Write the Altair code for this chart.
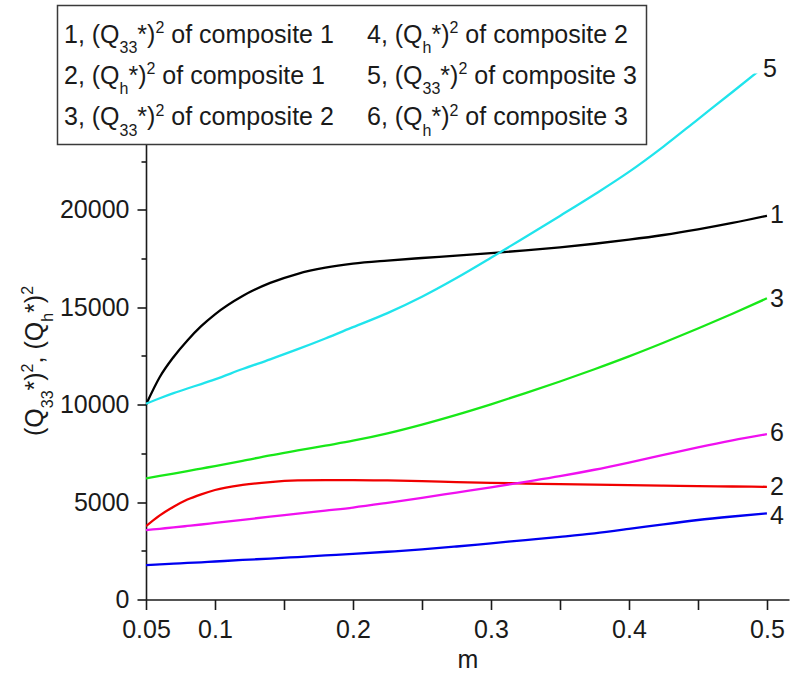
import altair as alt
import pandas as pd

# ---------------- data ----------------
m = [0.05, 0.06, 0.07, 0.08, 0.09, 0.10, 0.12, 0.14, 0.16, 0.18, 0.20, 0.225,
     0.25, 0.275, 0.30, 0.325, 0.35, 0.375, 0.40, 0.425, 0.45, 0.475, 0.50]

q33_c1 = [10000, 11420, 12450, 13300, 14030, 14640, 15580, 16250, 16720, 17030, 17240, 17400,
          17530, 17650, 17780, 17920, 18080, 18260, 18470, 18710, 19000, 19330, 19700]
qh_c1 = [3765, 4320, 4760, 5130, 5400, 5620, 5880, 6030, 6110, 6130, 6130, 6110,
         6075, 6030, 5990, 5955, 5920, 5895, 5870, 5845, 5820, 5800, 5785]
q33_c2 = [6216, 6340, 6465, 6590, 6720, 6850, 7120, 7400, 7650, 7900, 8150, 8530,
          8980, 9480, 10020, 10590, 11190, 11820, 12480, 13180, 13910, 14670, 15460]
qh_c2 = [1762, 1800, 1840, 1875, 1910, 1950, 2030, 2100, 2180, 2260, 2340, 2450,
         2570, 2720, 2885, 3050, 3215, 3395, 3620, 3860, 4080, 4260, 4420]
q33_c3 = [10050, 10330, 10590, 10830, 11060, 11300, 11830, 12330, 12850, 13400, 13980, 14700,
          15540, 16500, 17540, 18610, 19690, 20790, 21950, 23250, 24650, 26050, 27470]
qh_c3 = [3560, 3630, 3700, 3775, 3850, 3930, 4090, 4250, 4410, 4565, 4720, 4960,
         5220, 5490, 5760, 6040, 6330, 6660, 7030, 7420, 7810, 8170, 8490]

series_ids = ["1", "2", "3", "4", "5", "6"]
series_colors = ["#000000", "#f00000", "#18e818", "#0000f0", "#20e4ec", "#f010f0"]

label_text = ["1", "2", "3", "4", "5", "6"]
label_m = [0.5, 0.5, 0.5, 0.5, 0.495, 0.5]
label_val = [19740, 5795, 15450, 4280, 27240, 8570]

legend_sub = ["33", "h", "33", "h", "33", "h"]
legend_comp = ["1", "1", "2", "2", "3", "3"]

x_tick_values = [0.05, 0.075, 0.1, 0.125, 0.15, 0.175, 0.2, 0.225, 0.25, 0.275,
                 0.3, 0.325, 0.35, 0.375, 0.4, 0.425, 0.45, 0.475, 0.5]
x_label_values = [0.05, 0.1, 0.2, 0.3, 0.4, 0.5]
y_tick_values = [0, 2500, 5000, 7500, 10000, 12500, 15000, 17500, 20000, 22500, 25000]

# ---------------- layout ----------------
W, H = 643, 526
PL, PT = 146, 73.5
FONT = "Liberation Sans"
INK = "#1a1a1a"

rows = []
for sid, vals in zip(series_ids, [q33_c1, qh_c1, q33_c2, qh_c2, q33_c3, qh_c3]):
    for x, v in zip(m, vals):
        rows.append({"m": x, "v": v, "s": sid})
df = pd.DataFrame(rows)

lab = pd.DataFrame({"m": label_m, "v": label_val, "t": label_text})

xscale = alt.Scale(domain=[0.05, 0.516], nice=False, zero=False)
yscale = alt.Scale(domain=[0, 27000], nice=False, zero=True)

x_label_list = ",".join(str(v) for v in x_label_values)
x_axis = alt.Axis(
    values=x_tick_values,
    labelExpr=f"indexof([{x_label_list}], datum.value) >= 0 ? format(datum.value, '~g') : ''",
    tickSize={"condition": {"test": "abs(datum.value*20 - round(datum.value*20)) < 1e-6", "value": 10}, "value": 5},
    title="m", titleFont=FONT, titleFontSize=25, titleFontWeight="normal", titleColor=INK,
    titlePadding=5,
    labelFont=FONT, labelFontSize=25, labelColor=INK, labelPadding=8, labelFlush=False,
    labelOverlap=False,
    domainColor=INK, domainWidth=1.6, tickColor=INK, tickWidth=1.6, grid=False,
)
y_axis = alt.Axis(
    values=y_tick_values,
    labelExpr="datum.value % 5000 == 0 ? format(datum.value, 'd') : ''",
    tickSize={"condition": {"test": "datum.value % 5000 == 0", "value": 9}, "value": 5},
    title=None,
    labelFont=FONT, labelFontSize=25, labelColor=INK, labelPadding=8, labelOverlap=False,
    domainColor=INK, domainWidth=1.6, tickColor=INK, tickWidth=1.6, grid=False,
)

lines = alt.Chart(df).mark_line(strokeWidth=2.3, clip=True, interpolate="monotone").encode(
    x=alt.X("m:Q", scale=xscale, axis=x_axis),
    y=alt.Y("v:Q", scale=yscale, axis=y_axis),
    color=alt.Color("s:N", scale=alt.Scale(domain=series_ids, range=series_colors), legend=None),
    detail="s:N",
)

end_labels = alt.Chart(lab).mark_text(
    align="left", baseline="middle", dx=3, font=FONT, fontSize=25, color=INK
).encode(
    x=alt.X("m:Q", scale=xscale),
    y=alt.Y("v:Q", scale=yscale),
    text="t:N",
)

# ---------------- legend box + rich text ----------------
AW = {'0': 556, '1': 556, '2': 556, '3': 556, '4': 556, '5': 556, '6': 556,
      ',': 278, ' ': 278, '(': 333, ')': 333, 'Q': 778, '*': 389, 'h': 556,
      'o': 556, 'f': 278, 'c': 500, 'm': 833, 'p': 556, 's': 500, 'i': 222,
      't': 278, 'e': 556}


def tw(s, fs):
    return sum(AW[c] for c in s) * fs / 1000.0


BIG, SMALL = 25, 16
SUB_DY, SUP_DY = 10.6, -9.4

pieces = []
col_x = [64, 367]
row_base = [42.7, 83.7, 125.0]
for i, sid in enumerate(series_ids):
    x = col_x[i // 3]
    yb = row_base[i % 3]
    parts = [(f"{sid}, (Q", BIG, 0), (legend_sub[i], SMALL, SUB_DY), ("*)", BIG, 0),
             ("2", SMALL, SUP_DY), (None, BIG, 0), (f"of composite {legend_comp[i]}", BIG, 0)]
    for t, fs, dy in parts:
        if t is None:
            x += tw(" ", fs)
            continue
        pieces.append({"px": x - PL, "py": yb + dy - PT, "t": t, "fs": fs})
        x += tw(t, fs)
leg_df = pd.DataFrame(pieces)

legend_box = alt.Chart(pd.DataFrame({"a": [0]})).mark_rect(
    fill="white", stroke="#3a3a3a", strokeWidth=1.5
).encode(
    x=alt.value(57.5 - PL), x2=alt.value(646.5 - PL),
    y=alt.value(5.5 - PT), y2=alt.value(144.5 - PT),
)

legend_text = alt.Chart(leg_df).mark_text(
    align="left", baseline="alphabetic", font=FONT, color=INK
).encode(
    x=alt.X("px:Q", scale=None, axis=None),
    y=alt.Y("py:Q", scale=None, axis=None),
    size=alt.Size("fs:Q", scale=None, legend=None),
    text="t:N",
)

# rotated y-axis title with sub/superscripts
title_parts = [("(Q", BIG, 0), ("33", SMALL, SUB_DY), ("*)", BIG, 0), ("2", SMALL, SUP_DY),
               (", (Q", BIG, 0), ("h", SMALL, SUB_DY), ("*)", BIG, 0), ("2", SMALL, SUP_DY)]
tpieces = []
ty = 436.0
tx = 42.5
for t, fs, dy in title_parts:
    tpieces.append({"px": tx + dy - PL, "py": ty - PT, "t": t, "fs": fs})
    ty -= tw(t, fs)
title_df = pd.DataFrame(tpieces)

y_title = alt.Chart(title_df).mark_text(
    align="left", baseline="alphabetic", angle=270, font=FONT, color=INK
).encode(
    x=alt.X("px:Q", scale=None, axis=None),
    y=alt.Y("py:Q", scale=None, axis=None),
    size=alt.Size("fs:Q", scale=None, legend=None),
    text="t:N",
)

chart = alt.layer(lines, end_labels, legend_box, legend_text, y_title).properties(
    width=W, height=H,
    autosize=alt.AutoSizeParams(type="none"),
    padding={"left": PL, "top": PT, "right": 791 - PL - W, "bottom": 681 - PT - H},
    background="white",
).configure_view(stroke=None)

chart.save("out.html", embed_options={"renderer": "svg", "actions": False})
